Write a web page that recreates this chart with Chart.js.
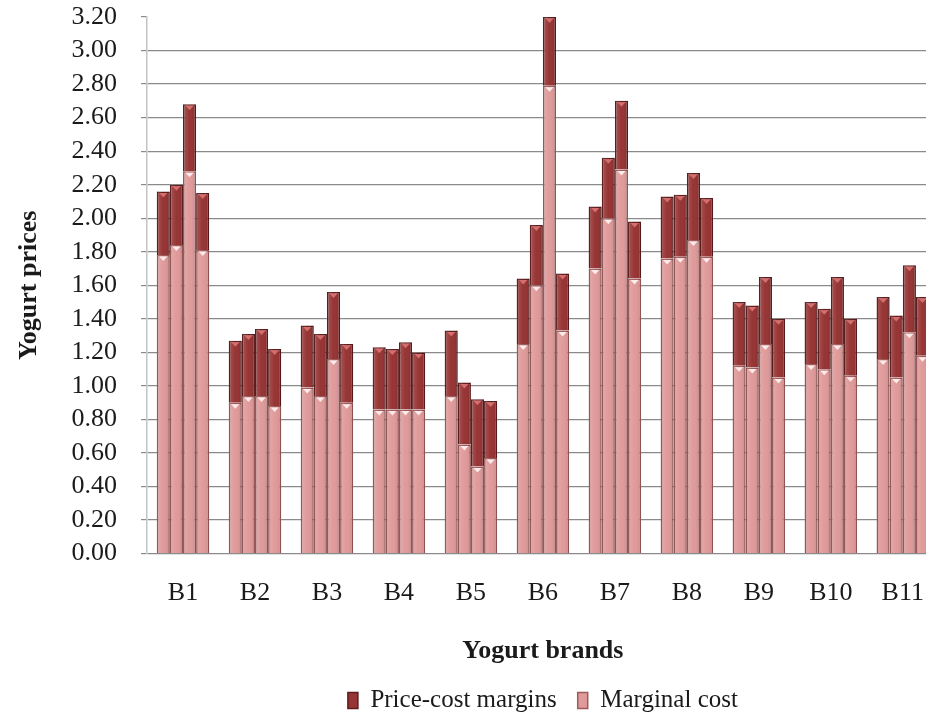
<!DOCTYPE html>
<html>
<head>
<meta charset="utf-8">
<script src="https://cdn.jsdelivr.net/npm/chart.js@4.4.1/dist/chart.umd.min.js"></script>
<style>
  html, body { margin: 0; padding: 0; background: #fff; overflow: hidden; }
  #wrap { width: 940px; height: 713px; }
</style>
</head>
<body>
<div id="wrap"><canvas id="chart" width="940" height="713"></canvas></div>
<script>
// Brands on the x axis
const brands = ['B1', 'B2', 'B3', 'B4', 'B5', 'B6', 'B7', 'B8', 'B9', 'B10', 'B11'];

// Yogurt prices (top of each bar), four products per brand
const prices = [
  [2.16, 2.20, 2.68, 2.15],
  [1.27, 1.31, 1.34, 1.22],
  [1.36, 1.31, 1.56, 1.25],
  [1.23, 1.22, 1.26, 1.20],
  [1.33, 1.02, 0.92, 0.91],
  [1.64, 1.96, 3.20, 1.67],
  [2.07, 2.36, 2.70, 1.98],
  [2.13, 2.14, 2.27, 2.12],
  [1.50, 1.48, 1.65, 1.40],
  [1.50, 1.46, 1.65, 1.40],
  [1.53, 1.42, 1.72, 1.53]
];

// Marginal cost (lower part of each bar)
const marginalCost = [
  [1.78, 1.84, 2.28, 1.81],
  [0.90, 0.94, 0.94, 0.88],
  [0.99, 0.94, 1.16, 0.90],
  [0.86, 0.86, 0.86, 0.86],
  [0.94, 0.65, 0.52, 0.57],
  [1.25, 1.60, 2.79, 1.33],
  [1.70, 2.00, 2.29, 1.64],
  [1.76, 1.77, 1.87, 1.77],
  [1.12, 1.11, 1.25, 1.05],
  [1.13, 1.10, 1.25, 1.06],
  [1.16, 1.05, 1.32, 1.18]
];

const yTicks = [0, 0.2, 0.4, 0.6, 0.8, 1.0, 1.2, 1.4, 1.6, 1.8, 2.0, 2.2, 2.4, 2.6, 2.8, 3.0, 3.2];

const serif = "'Liberation Serif', 'Times New Roman', serif";
const mcColor = '#e09a9a';
const mcEdge = '#9c5a5a';
const pcmColor = '#973434';
const pcmEdge = '#5e1c1c';

// one stack per product slot, marginal cost at the bottom, margin on top
const datasets = [];
for (let i = 0; i < 4; i++) {
  datasets.push({
    label: 'Marginal cost',
    data: marginalCost.map(r => r[i]),
    stack: 's' + i,
    backgroundColor: mcColor,
    borderColor: mcEdge,
    borderWidth: 1.5
  });
  datasets.push({
    label: 'Price-cost margins',
    data: prices.map((r, k) => +(r[i] - marginalCost[k][i]).toFixed(2)),
    stack: 's' + i,
    backgroundColor: pcmColor,
    borderColor: pcmEdge,
    borderWidth: 1.5
  });
}

// shading across each bar plus the small bevel triangle at its top
const bevelPlugin = {
  id: 'bevel',
  afterDatasetsDraw(chart) {
    const ctx = chart.ctx;
    chart.data.datasets.forEach((ds, di) => {
      const meta = chart.getDatasetMeta(di);
      const light = di % 2 === 0 ? '#fdeaea' : '#d66e6e';
      meta.data.forEach(bar => {
        const w = bar.width;
        const x0 = bar.x - w / 2, x1 = bar.x + w / 2;
        ctx.save();
        const g = ctx.createLinearGradient(x0, 0, x1, 0);
        g.addColorStop(0, 'rgba(0,0,0,0.22)');
        g.addColorStop(0.2, 'rgba(255,255,255,0.10)');
        g.addColorStop(0.5, 'rgba(255,255,255,0.0)');
        g.addColorStop(0.85, 'rgba(0,0,0,0.06)');
        g.addColorStop(1, 'rgba(0,0,0,0.28)');
        ctx.fillStyle = g;
        ctx.fillRect(x0 + 0.75, bar.y, w - 1.5, bar.base - bar.y);
        ctx.fillStyle = light;
        ctx.beginPath();
        ctx.moveTo(x0 + 2.5, bar.y + 1.5);
        ctx.lineTo(x1 - 2.5, bar.y + 1.5);
        ctx.lineTo(bar.x, bar.y + 6);
        ctx.closePath();
        ctx.fill();
        ctx.restore();
      });
    });
  }
};

new Chart(document.getElementById('chart'), {
  type: 'bar',
  data: { labels: brands, datasets: datasets },
  plugins: [bevelPlugin],
  options: {
    responsive: false,
    animation: false,
    layout: { padding: { top: 17, left: 0, right: 0, bottom: -10 } },
    datasets: { bar: { categoryPercentage: 0.73, barPercentage: 1.0 } },
    plugins: {
      tooltip: { enabled: false },
      legend: {
        position: 'bottom',
        fullSize: false,
        labels: {
          font: { family: serif, size: 25 },
          color: '#1a1a1a',
          boxWidth: 10,
          boxHeight: 16,
          padding: 21,
          filter: item => item.datasetIndex < 2,
          sort: (a, b) => b.datasetIndex - a.datasetIndex
        }
      }
    },
    scales: {
      x: {
        stacked: true,
        grid: { display: false },
        border: { display: false },
        ticks: { font: { family: serif, size: 26 }, color: '#1a1a1a', padding: 16 },
        title: {
          display: true,
          text: 'Yogurt brands',
          font: { family: serif, size: 26, weight: 'bold' },
          color: '#1a1a1a',
          padding: { top: 11, bottom: 0 }
        }
      },
      y: {
        stacked: true,
        min: 0,
        max: 3.2,
        afterBuildTicks: axis => { axis.ticks = yTicks.map(v => ({ value: v })); },
        afterFit: axis => {
          axis.width = 147;
          axis.paddingTop = 0;
          axis.paddingBottom = 0;
        },
        grid: {
          color: c => (c.tick && c.tick.value === 3.2 ? 'rgba(0,0,0,0)' : '#8a8a8a'),
          tickColor: '#8a8a8a',
          lineWidth: 1.2,
          tickLength: 6
        },
        border: { color: '#c4c4c4', width: 1.5 },
        ticks: {
          autoSkip: false,
          font: { family: serif, size: 26 },
          color: '#1a1a1a',
          padding: 24,
          callback: v => v.toFixed(2)
        },
        title: {
          display: true,
          text: 'Yogurt prices',
          font: { family: serif, size: 26, weight: 'bold' },
          color: '#1a1a1a',
          padding: { top: 14, bottom: 0 }
        }
      }
    }
  }
});
</script>
</body>
</html>
